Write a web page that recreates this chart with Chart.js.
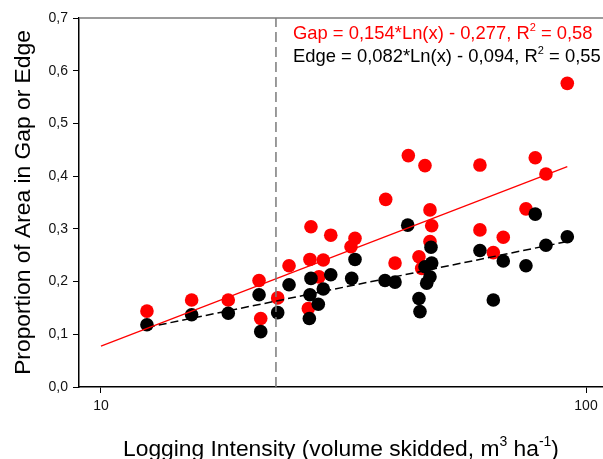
<!DOCTYPE html>
<html>
<head>
<meta charset="utf-8">
<script src="https://cdn.jsdelivr.net/npm/chart.js@4"></script>
<style>
html,body{margin:0;padding:0;background:#fff;}
#wrap{width:603px;height:459px;position:relative;}
</style>
</head>
<body>
<div id="wrap"><canvas id="c" width="603" height="459"></canvas></div>
<script>
// ---- data ----
const gapX  = [12.44,15.38,18.30,21.18,21.35,23.14,24.42,27.10,26.97,26.76,28.73,28.15,29.77,32.77,33.40,38.64,40.39,43.02,46.56,47.68,48.07,47.68,45.25,45.84,60.44,60.44,64.40,67.52,75.20,78.59,82.68,91.50];
const gapY  = [0.144,0.165,0.165,0.202,0.130,0.169,0.230,0.304,0.242,0.149,0.241,0.209,0.288,0.266,0.282,0.356,0.235,0.439,0.420,0.336,0.306,0.276,0.247,0.225,0.421,0.298,0.255,0.284,0.338,0.435,0.404,0.576];
const edgeX = [12.44,15.38,18.30,21.18,21.35,23.14,24.42,27.10,26.97,26.89,28.73,28.06,29.77,32.88,33.40,38.51,40.39,42.90,47.91,48.07,46.56,47.68,46.94,45.25,45.47,60.44,64.40,67.52,75.20,78.59,82.68,91.50];
const edgeY = [0.118,0.137,0.140,0.175,0.105,0.141,0.194,0.206,0.175,0.130,0.186,0.157,0.213,0.206,0.242,0.202,0.199,0.307,0.265,0.235,0.228,0.209,0.197,0.168,0.143,0.259,0.165,0.239,0.230,0.328,0.269,0.285];
// fitted lines (end points)
const gapFitX  = [10, 91.5];
const gapFitY  = [0.0776, 0.418];
const edgeFitX = [12.44, 91.5];
const edgeFitY = [0.113, 0.276];
// vertical reference line
const refX = [22.95, 22.95];
const refY = [0, 0.7];
const xTicks = [10, 100];
const yTicks = [0, 0.1, 0.2, 0.3, 0.4, 0.5, 0.6, 0.7];
const gapLabel  = [["Gap = 0,154*Ln(x) - 0,277, R", false], ["2", true], [" = 0,58", false]];
const edgeLabel = [["Edge = 0,082*Ln(x) - 0,094, R", false], ["2", true], [" = 0,55", false]];
const xTitle = [["Logging Intensity (volume skidded, m", false], ["3", true], [" ha", false], ["-1", true], [")", false]];
const yTitle = "Proportion of Area in Gap or Edge";

const FONT = '"Liberation Sans", Arial, sans-serif';
const pts = (xs, ys) => xs.map((x, i) => ({x: x, y: ys[i]}));

function richWidth(ctx, segs, size) {
  let w = 0;
  for (const [t, sup] of segs) {
    ctx.font = (sup ? Math.round(size * 0.62) : size) + 'px ' + FONT;
    w += ctx.measureText(t).width;
  }
  return w;
}
function drawRich(ctx, segs, x, y, size, color, align) {
  ctx.save();
  ctx.fillStyle = color;
  ctx.textBaseline = 'alphabetic';
  ctx.textAlign = 'left';
  let cx = x;
  if (align === 'center') cx = x - richWidth(ctx, segs, size) / 2;
  for (const [t, sup] of segs) {
    ctx.font = (sup ? Math.round(size * 0.62) : size) + 'px ' + FONT;
    ctx.fillText(t, cx, sup ? y - size * 0.42 : y);
    cx += ctx.measureText(t).width;
  }
  ctx.restore();
}

const textPlugin = {
  id: 'texts',
  afterDraw(chart) {
    const ctx = chart.ctx;
    const a = chart.chartArea;
    ctx.save();
    ctx.strokeStyle = '#7a7a7a';
    ctx.lineWidth = 1.5;
    ctx.beginPath();
    ctx.moveTo(a.left, a.top);
    ctx.lineTo(603, a.top);
    ctx.stroke();
    ctx.restore();
    drawRich(ctx, gapLabel, 293, 39, 18.4, '#ff0000', 'left');
    drawRich(ctx, edgeLabel, 293, 62, 18.4, '#000000', 'left');
    drawRich(ctx, xTitle, (a.left + a.right) / 2, 456, 22.8, '#000000', 'center');
    ctx.save();
    ctx.translate(24, (a.top + a.bottom) / 2);
    ctx.rotate(-Math.PI / 2);
    ctx.font = '22.8px ' + FONT;
    ctx.fillStyle = '#000';
    ctx.textAlign = 'center';
    ctx.textBaseline = 'middle';
    ctx.fillText(yTitle, 0, 0);
    ctx.restore();
  }
};

new Chart(document.getElementById('c'), {
  type: 'scatter',
  data: {
    datasets: [
      {label: 'refline', type: 'line', data: pts(refX, refY), borderColor: '#7a7a7a', borderWidth: 1.5, borderDash: [10, 5], pointRadius: 0, fill: false, order: 0},
      {label: 'gapfit', type: 'line', data: pts(gapFitX, gapFitY), borderColor: '#ff0000', borderWidth: 1.2, pointRadius: 0, fill: false, order: 0},
      {label: 'edgefit', type: 'line', data: pts(edgeFitX, edgeFitY), borderColor: '#000000', borderWidth: 1.5, borderDash: [8, 4], pointRadius: 0, fill: false, order: 0},
      {label: 'Edge', data: pts(edgeX, edgeY), backgroundColor: '#000000', borderWidth: 0, pointRadius: 6.8, order: 1},
      {label: 'Gap', data: pts(gapX, gapY), backgroundColor: '#ff0000', borderWidth: 0, pointRadius: 6.8, order: 2}
    ]
  },
  options: {
    responsive: false,
    animation: false,
    events: [],
    layout: {autoPadding: false, padding: {top: 18, right: 0, left: 0, bottom: 0}},
    plugins: {legend: {display: false}, tooltip: {enabled: false}},
    scales: {
      x: {
        type: 'logarithmic',
        min: 9.01,
        max: 108.4,
        afterBuildTicks(s) { s.ticks = xTicks.map(v => ({value: v, major: true})); },
        afterFit(s) { s.height = 72; s.paddingLeft = 0; s.paddingRight = 0; },
        grid: {drawOnChartArea: false, drawTicks: true, tickLength: 6, color: '#000', lineWidth: 1},
        border: {display: true, color: '#000', width: 1.5},
        ticks: {
          autoSkip: false, maxRotation: 0, padding: 5, color: '#111',
          font: {family: FONT, size: 14},
          callback: (v) => String(v)
        }
      },
      y: {
        min: 0,
        max: 0.7,
        afterBuildTicks(s) { s.ticks = yTicks.map(v => ({value: v})); },
        afterFit(s) { s.width = 79; s.paddingTop = 0; s.paddingBottom = 0; },
        grid: {drawOnChartArea: false, drawTicks: true, tickLength: 6, color: '#000', lineWidth: 1},
        border: {display: true, color: '#000', width: 1.5},
        ticks: {
          padding: 5, color: '#111',
          font: {family: FONT, size: 14},
          callback: (v) => Number(v).toFixed(1).replace('.', ',')
        }
      }
    }
  },
  plugins: [textPlugin]
});
</script>
</body>
</html>
